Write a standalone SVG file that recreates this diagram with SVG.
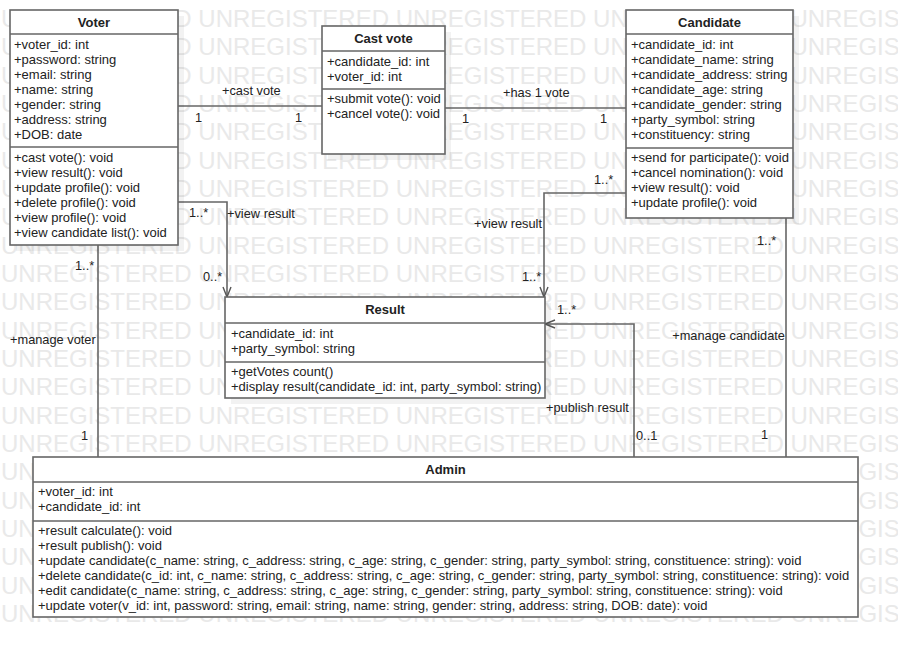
<svg xmlns="http://www.w3.org/2000/svg" width="898" height="658" viewBox="0 0 898 658">
  <style>
    .wm { font-family: "Liberation Sans", Arial, sans-serif; font-size: 24px; fill: #e9e9e9; }
    .box { fill: #ffffff; stroke: #666666; stroke-width: 1.6; }
    .shadow { fill: #000000; fill-opacity: 0.05; }
    .sep { stroke: #666666; stroke-width: 1.6; }
    .t { font-family: "Liberation Sans", Arial, sans-serif; font-size: 13px; fill: #222222; }
    .title { font-family: "Liberation Sans", Arial, sans-serif; font-size: 13px; font-weight: bold; fill: #222222; text-anchor: middle; }
    .edge { fill: none; stroke: #666666; stroke-width: 1.6; }
    .lbl { font-family: "Liberation Sans", Arial, sans-serif; font-size: 12.8px; fill: #222222; }
  </style>
  <defs>
    <marker id="open" markerUnits="userSpaceOnUse" markerWidth="14" markerHeight="12" refX="11" refY="5" orient="auto">
      <path d="M1,1 L11,5 L1,9" fill="none" stroke="#555555" stroke-width="1.4"/>
    </marker>
  </defs>

  <rect width="898" height="658" fill="#ffffff"/>

  <!-- background watermark rows -->
  <g id="watermark" class="wm">
    <text x="1" y="27">UNREGISTERED UNREGISTERED UNREGISTERED UNREGISTERED UNREGISTERED</text>
    <text x="1" y="55">UNREGISTERED UNREGISTERED UNREGISTERED UNREGISTERED UNREGISTERED</text>
    <text x="1" y="84">UNREGISTERED UNREGISTERED UNREGISTERED UNREGISTERED UNREGISTERED</text>
    <text x="1" y="112">UNREGISTERED UNREGISTERED UNREGISTERED UNREGISTERED UNREGISTERED</text>
    <text x="1" y="140">UNREGISTERED UNREGISTERED UNREGISTERED UNREGISTERED UNREGISTERED</text>
    <text x="1" y="169">UNREGISTERED UNREGISTERED UNREGISTERED UNREGISTERED UNREGISTERED</text>
    <text x="1" y="197">UNREGISTERED UNREGISTERED UNREGISTERED UNREGISTERED UNREGISTERED</text>
    <text x="1" y="225">UNREGISTERED UNREGISTERED UNREGISTERED UNREGISTERED UNREGISTERED</text>
    <text x="1" y="254">UNREGISTERED UNREGISTERED UNREGISTERED UNREGISTERED UNREGISTERED</text>
    <text x="1" y="282">UNREGISTERED UNREGISTERED UNREGISTERED UNREGISTERED UNREGISTERED</text>
    <text x="1" y="310">UNREGISTERED UNREGISTERED UNREGISTERED UNREGISTERED UNREGISTERED</text>
    <text x="1" y="339">UNREGISTERED UNREGISTERED UNREGISTERED UNREGISTERED UNREGISTERED</text>
    <text x="1" y="367">UNREGISTERED UNREGISTERED UNREGISTERED UNREGISTERED UNREGISTERED</text>
    <text x="1" y="395">UNREGISTERED UNREGISTERED UNREGISTERED UNREGISTERED UNREGISTERED</text>
    <text x="1" y="424">UNREGISTERED UNREGISTERED UNREGISTERED UNREGISTERED UNREGISTERED</text>
    <text x="1" y="452">UNREGISTERED UNREGISTERED UNREGISTERED UNREGISTERED UNREGISTERED</text>
    <text x="1" y="480">UNREGISTERED UNREGISTERED UNREGISTERED UNREGISTERED UNREGISTERED</text>
    <text x="1" y="509">UNREGISTERED UNREGISTERED UNREGISTERED UNREGISTERED UNREGISTERED</text>
    <text x="1" y="537">UNREGISTERED UNREGISTERED UNREGISTERED UNREGISTERED UNREGISTERED</text>
    <text x="1" y="565">UNREGISTERED UNREGISTERED UNREGISTERED UNREGISTERED UNREGISTERED</text>
    <text x="1" y="594">UNREGISTERED UNREGISTERED UNREGISTERED UNREGISTERED UNREGISTERED</text>
    <text x="1" y="622">UNREGISTERED UNREGISTERED UNREGISTERED UNREGISTERED UNREGISTERED</text>
  </g>

  <!-- associations -->
  <g id="connectors">
    <!-- Voter - Cast vote -->
    <path class="edge" d="M178,106 H322"/>
    <text class="lbl" x="222" y="95">+cast vote</text>
    <text class="lbl" x="195" y="122">1</text>
    <text class="lbl" x="295" y="122">1</text>

    <!-- Cast vote - Candidate -->
    <path class="edge" d="M445,108 H626"/>
    <text class="lbl" x="503" y="97">+has 1 vote</text>
    <text class="lbl" x="462" y="123">1</text>
    <text class="lbl" x="600" y="123">1</text>

    <!-- Voter -> Result -->
    <path class="edge" d="M178,202 H227 V297" marker-end="url(#open)"/>
    <text class="lbl" x="189" y="217">1..*</text>
    <text class="lbl" x="227" y="218">+view result</text>
    <text class="lbl" x="203" y="281">0..*</text>

    <!-- Candidate -> Result -->
    <path class="edge" d="M626,193 H544 V297" marker-end="url(#open)"/>
    <text class="lbl" x="594" y="184">1..*</text>
    <text class="lbl" x="542" y="228" text-anchor="end">+view result</text>
    <text class="lbl" x="522" y="281">1..*</text>

    <!-- Admin -> Result -->
    <path class="edge" d="M634,457 V324 H545" marker-end="url(#open)"/>
    <text class="lbl" x="557" y="314">1..*</text>
    <text class="lbl" x="546" y="412">+publish result</text>
    <text class="lbl" x="636" y="440">0..1</text>

    <!-- Admin - Candidate -->
    <path class="edge" d="M786,218 V457"/>
    <text class="lbl" x="757" y="245">1..*</text>
    <text class="lbl" x="785" y="340" text-anchor="end">+manage candidate</text>
    <text class="lbl" x="761" y="439">1</text>

    <!-- Admin - Voter -->
    <path class="edge" d="M98,245 V457"/>
    <text class="lbl" x="75" y="270">1..*</text>
    <text class="lbl" x="10" y="344">+manage voter</text>
    <text class="lbl" x="81" y="440">1</text>
  </g>

  <!-- Voter -->
  <g id="voter">
    <rect class="shadow" x="16" y="16" width="168" height="235"/>
    <rect class="box" x="10" y="10" width="168" height="235"/>
    <line class="sep" x1="10" y1="34" x2="178" y2="34"/>
    <line class="sep" x1="10" y1="147" x2="178" y2="147"/>
    <text class="title" x="94" y="27">Voter</text>
    <text class="t" x="14" y="49">+voter_id: int</text>
    <text class="t" x="14" y="64">+password: string</text>
    <text class="t" x="14" y="79">+email: string</text>
    <text class="t" x="14" y="94">+name: string</text>
    <text class="t" x="14" y="109">+gender: string</text>
    <text class="t" x="14" y="124">+address: string</text>
    <text class="t" x="14" y="139">+DOB: date</text>
    <text class="t" x="14" y="162">+cast vote(): void</text>
    <text class="t" x="14" y="177">+view result(): void</text>
    <text class="t" x="14" y="192">+update profile(): void</text>
    <text class="t" x="14" y="207">+delete profile(): void</text>
    <text class="t" x="14" y="222">+view profile(): void</text>
    <text class="t" x="14" y="237">+view candidate list(): void</text>
  </g>

  <!-- Cast vote -->
  <g id="cast-vote">
    <rect class="shadow" x="328" y="32" width="123" height="128"/>
    <rect class="box" x="322" y="26" width="123" height="128"/>
    <line class="sep" x1="322" y1="51" x2="445" y2="51"/>
    <line class="sep" x1="322" y1="89" x2="445" y2="89"/>
    <text class="title" x="383.5" y="43">Cast vote</text>
    <text class="t" x="327" y="66">+candidate_id: int</text>
    <text class="t" x="327" y="81">+voter_id: int</text>
    <text class="t" x="327" y="103">+submit vote(): void</text>
    <text class="t" x="327" y="118">+cancel vote(): void</text>
  </g>

  <!-- Candidate -->
  <g id="candidate">
    <rect class="shadow" x="632" y="16" width="167" height="208"/>
    <rect class="box" x="626" y="10" width="167" height="208"/>
    <line class="sep" x1="626" y1="34" x2="793" y2="34"/>
    <line class="sep" x1="626" y1="148" x2="793" y2="148"/>
    <text class="title" x="709.5" y="27">Candidate</text>
    <text class="t" x="631" y="49">+candidate_id: int</text>
    <text class="t" x="631" y="64">+candidate_name: string</text>
    <text class="t" x="631" y="79">+candidate_address: string</text>
    <text class="t" x="631" y="94">+candidate_age: string</text>
    <text class="t" x="631" y="109">+candidate_gender: string</text>
    <text class="t" x="631" y="124">+party_symbol: string</text>
    <text class="t" x="631" y="139">+constituency: string</text>
    <text class="t" x="631" y="162">+send for participate(): void</text>
    <text class="t" x="631" y="177">+cancel nomination(): void</text>
    <text class="t" x="631" y="192">+view result(): void</text>
    <text class="t" x="631" y="207">+update profile(): void</text>
  </g>

  <!-- Result -->
  <g id="result">
    <rect class="shadow" x="231" y="303" width="320" height="101"/>
    <rect class="box" x="225" y="297" width="320" height="101"/>
    <line class="sep" x1="225" y1="323" x2="545" y2="323"/>
    <line class="sep" x1="225" y1="362" x2="545" y2="362"/>
    <text class="title" x="385" y="314">Result</text>
    <text class="t" x="231" y="338">+candidate_id: int</text>
    <text class="t" x="231" y="353">+party_symbol: string</text>
    <text class="t" x="231" y="376">+getVotes count()</text>
    <text class="t" x="231" y="391">+display result(candidate_id: int, party_symbol: string)</text>
  </g>

  <!-- Admin -->
  <g id="admin">
    <rect class="box" x="33" y="457" width="825" height="160"/>
    <line class="sep" x1="33" y1="482" x2="858" y2="482"/>
    <line class="sep" x1="33" y1="521" x2="858" y2="521"/>
    <text class="title" x="445.5" y="474">Admin</text>
    <text class="t" x="38" y="496">+voter_id: int</text>
    <text class="t" x="38" y="511">+candidate_id: int</text>
    <text class="t" x="38" y="535">+result calculate(): void</text>
    <text class="t" x="38" y="550">+result publish(): void</text>
    <text class="t" x="38" y="565">+update candidate(c_name: string, c_address: string, c_age: string, c_gender: string, party_symbol: string, constituence: string): void</text>
    <text class="t" x="38" y="580">+delete candidate(c_id: int, c_name: string, c_address: string, c_age: string, c_gender: string, party_symbol: string, constituence: string): void</text>
    <text class="t" x="38" y="595">+edit candidate(c_name: string, c_address: string, c_age: string, c_gender: string, party_symbol: string, constituence: string): void</text>
    <text class="t" x="38" y="610">+update voter(v_id: int, password: string, email: string, name: string, gender: string, address: string, DOB: date): void</text>
  </g>
</svg>
